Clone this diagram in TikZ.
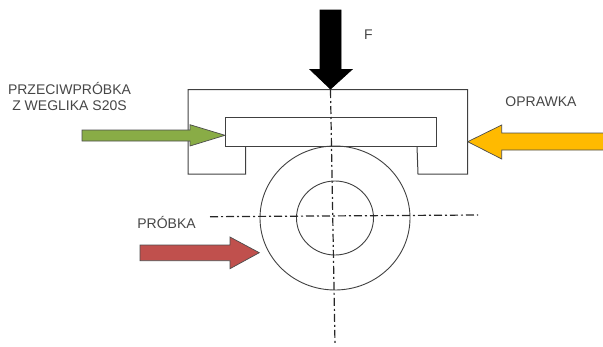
\documentclass[tikz,border=0pt]{standalone}
\usepackage{fontspec}
\setmainfont{Liberation Sans}
\usepackage{xcolor}
\definecolor{oliveArrow}{RGB}{137,172,70}
\definecolor{amberArrow}{RGB}{255,186,0}
\definecolor{redArrow}{RGB}{192,80,77}
\definecolor{labelGray}{RGB}{70,70,70}
\tikzset{
  part/.style={draw=black!75, line width=1pt},
  axis/.style={draw=black!85, line width=1.2pt, dash pattern=on 8pt off 3pt on 2pt off 3pt},
  blockarrow/.style={draw=black!70, line width=.7pt, line join=miter},
  label/.style={text=labelGray, font=\fontsize{14}{16.5}\selectfont, inner sep=0pt, align=center}
}
\begin{document}
\begin{tikzpicture}[x=1pt,y=-1pt]
\useasboundingbox (0,0) rectangle (603,346);
% holder
\draw[part] (245.5,146) -- (245.5,174) -- (188,174) -- (188,89.5) -- (467.5,89.5) -- (467.5,174) -- (418,174) -- (417,146);
% specimen and counter-specimen
\draw[part, fill=white] (225,117) rectangle (436,146);
\draw[part, line width=.9pt] (335,218) ellipse [x radius=75, y radius=72];
\draw[part, line width=.9pt] (335,218) ellipse [x radius=38.5, y radius=37];
% axes
\coordinate (axisTop) at (330.5,90);
\coordinate (axisBottom) at (335,344);
\coordinate (axisLeft) at (210,216.7);
\coordinate (axisRight) at (478,215);
\draw[axis] (axisTop) -- (axisBottom);
\draw[axis] (axisLeft) -- (axisRight);
% arrows
\draw[blockarrow, fill=black, draw=black] (320,10) -- (341,10) -- (341,69.5) -- (352,69.5) -- (330.5,89) -- (310,69.5) -- (320,69.5) -- cycle;
\draw[blockarrow, fill=oliveArrow] (82,130) -- (190,130) -- (190,124.7) -- (225,135.3) -- (190,146) -- (190,141) -- (82,141) -- cycle;
\draw[blockarrow, fill=amberArrow] (604,133) -- (501.7,133) -- (501.7,125) -- (467.7,141.7) -- (501.7,159) -- (501.7,150) -- (604,150);
\draw[blockarrow, fill=redArrow] (140,245) -- (230,245) -- (230,237) -- (259.3,252.7) -- (230,268.7) -- (230,260.7) -- (140,260.7) -- cycle;
% labels
\node[label] (force) at (368.5,35) {F};
\node[label] (counter) at (69.5,96.5) {PRZECIWPRÓBKA\\Z WEGLIKA S20S};
\node[label] (holder) at (541,102) {OPRAWKA};
\node[label] (sample) at (166.5,222) {PRÓBKA};
\end{tikzpicture}
\end{document}
